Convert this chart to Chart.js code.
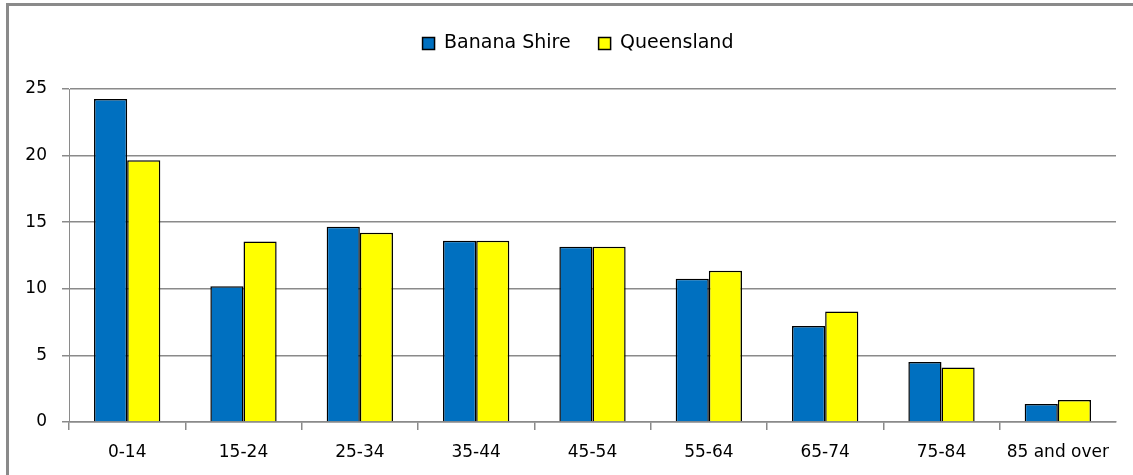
<!DOCTYPE html>
<html>
<head>
<meta charset="utf-8">
<script src="https://cdn.jsdelivr.net/npm/chart.js@4/dist/chart.umd.min.js"></script>
<style>
  html, body { margin:0; padding:0; background:#fff; overflow:hidden; }
  #frame { position:absolute; left:6px; top:3px; width:1140px; height:480px; border:3px solid #8a8a8a; }
  #wrap { position:absolute; left:0; top:0; width:1133px; height:475px; }
</style>
</head>
<body>
<div id="frame"></div>
<div id="wrap"><canvas id="chart-age" width="1133" height="475"></canvas></div>
<script>
// ── Age structure, % of population ─────────────────────────────────────────
const AGE_GROUPS = ["0-14","15-24","25-34","35-44","45-54","55-64","65-74","75-84","85 and over"];
const BANANA_SHIRE = [24.25, 10.2, 14.65, 13.6, 13.15, 10.75, 7.2, 4.5, 1.35];
const QUEENSLAND   = [19.65, 13.55, 14.2, 13.6, 13.15, 11.35, 8.3, 4.1, 1.65];
const Y_TICKS = [0, 5, 10, 15, 20, 25];

const GRID = "#8a8a8a";
const FONT = "'DejaVu Sans', sans-serif";

Chart.defaults.font.family = FONT;
Chart.defaults.color = "#000";

// extra room under the legend, and nudge it right like the original
const legendTweak = {
  id:"legendTweak",
  beforeInit(chart) {
    const fit = chart.legend.fit;
    chart.legend.fit = function() { fit.call(this); this.height += 26; };
  },
  afterLayout(chart) {
    chart.legend.left += 20;
    chart.legend.right += 20;
  }
};

const ctx = document.getElementById("chart-age").getContext("2d");
new Chart(ctx, {
  type:"bar",
  data: {
    labels: AGE_GROUPS,
    datasets: [
      { label:"Banana Shire", data:BANANA_SHIRE, backgroundColor:"#0070C0", borderColor:"#000", borderWidth:1.5, borderSkipped:"bottom" },
      { label:"Queensland",   data:QUEENSLAND,   backgroundColor:"#FFFF00", borderColor:"#000", borderWidth:1.5, borderSkipped:"bottom" }
    ]
  },
  options: {
    responsive:false, animation:false,
    layout:{ padding:{ left:0, right:17, top:6, bottom:0 } },
    datasets:{ bar:{ categoryPercentage:0.57, barPercentage:1.0 } },
    plugins:{
      legend:{ position:"top", labels:{ boxWidth:12, boxHeight:12, padding:28, font:{size:19}, color:"#000" } },
      tooltip:{ enabled:false }
    },
    scales:{
      x:{
        offset:true,
        afterFit: s => { s.height = 53; },
        // no tick mark at the far right end
        grid:{ display:true, drawOnChartArea:false, offset:true, tickLength:8, lineWidth:1.5,
               color: c => (c.type === "tick" ? GRID : "rgba(0,0,0,0)") },
        border:{ display:true, color:GRID, width:1.5 },
        ticks:{ font:{size:17}, color:"#000", padding:12, maxRotation:0, autoSkip:false }
      },
      y:{
        min:0, max:25,
        afterFit: s => { s.width = 69; },
        afterBuildTicks: s => { s.ticks = Y_TICKS.map(v => ({ value:v })); },
        grid:{ color:GRID, lineWidth:1.5, tickLength:7 },
        border:{ display:true, color:GRID, width:1 },
        ticks:{ font:{size:17}, color:"#000", padding:15 }
      }
    }
  },
  plugins:[legendTweak]
});
</script>
</body>
</html>
